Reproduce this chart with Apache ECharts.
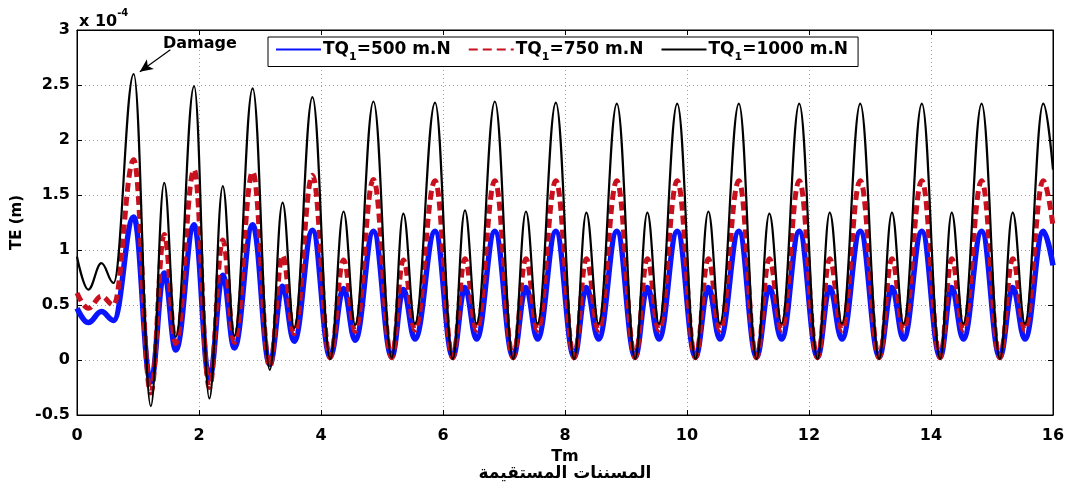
<!DOCTYPE html>
<html>
<head>
<meta charset="utf-8">
<script src="https://cdn.jsdelivr.net/npm/echarts@6/dist/echarts.min.js"></script>
<style>
html,body{margin:0;padding:0;background:#fff;}
#c{width:1088px;height:493px;}
</style>
</head>
<body>
<div id="c"></div>
<script>
// Time (Tm) of each turning point
const tm = [0, 0.185, 0.40, 0.60,
  0.93, 1.21, 1.43, 1.62,
  1.92, 2.17, 2.39, 2.58,
  2.88, 3.16, 3.37, 3.56,
  3.86, 4.15, 4.37, 4.56,
  4.86, 5.16, 5.35, 5.54,
  5.87, 6.16, 6.36, 6.55,
  6.85, 7.15, 7.36, 7.55,
  7.85, 8.15, 8.35, 8.55,
  8.85, 9.15, 9.35, 9.54,
  9.84, 10.14, 10.35, 10.54,
  10.85, 11.14, 11.35, 11.55,
  11.84, 12.14, 12.34, 12.54,
  12.84, 13.15, 13.36, 13.55,
  13.85, 14.15, 14.34, 14.53,
  14.83, 15.13, 15.34, 15.54,
  15.84, 16.0];

// TE values (x 10^-4 m)
const te500 = [0.47, 0.34, 0.44, 0.36,
  1.30, -0.20, 0.79, 0.09,
  1.23, -0.17, 0.77, 0.11,
  1.23, -0.04, 0.67, 0.17,
  1.18, 0.03, 0.65, 0.18,
  1.17, 0.03, 0.64, 0.19,
  1.17, 0.03, 0.66, 0.19,
  1.17, 0.03, 0.66, 0.19,
  1.17, 0.03, 0.66, 0.19,
  1.17, 0.03, 0.66, 0.19,
  1.17, 0.03, 0.66, 0.19,
  1.17, 0.03, 0.66, 0.19,
  1.17, 0.03, 0.66, 0.19,
  1.17, 0.03, 0.66, 0.19,
  1.17, 0.03, 0.66, 0.19,
  1.17, 0.03, 0.66, 0.19,
  1.17, 0.86];

const te750 = [0.61, 0.47, 0.58, 0.50,
  1.82, -0.30, 1.14, 0.15,
  1.73, -0.25, 1.09, 0.16,
  1.71, -0.06, 0.95, 0.24,
  1.68, 0.02, 0.91, 0.26,
  1.64, 0.02, 0.91, 0.27,
  1.63, 0.02, 0.92, 0.27,
  1.63, 0.02, 0.92, 0.27,
  1.63, 0.02, 0.92, 0.27,
  1.63, 0.02, 0.92, 0.27,
  1.63, 0.02, 0.92, 0.27,
  1.63, 0.02, 0.92, 0.27,
  1.63, 0.02, 0.92, 0.27,
  1.63, 0.02, 0.92, 0.27,
  1.63, 0.02, 0.92, 0.27,
  1.63, 0.02, 0.92, 0.27,
  1.63, 1.22];

const te1000 = [0.94, 0.64, 0.88, 0.70,
  2.60, -0.42, 1.61, 0.21,
  2.49, -0.35, 1.58, 0.22,
  2.47, -0.09, 1.43, 0.29,
  2.39, 0.01, 1.35, 0.32,
  2.35, 0.02, 1.33, 0.33,
  2.34, 0.01, 1.36, 0.33,
  2.35, 0.01, 1.35, 0.33,
  2.34, 0.01, 1.34, 0.33,
  2.33, 0.01, 1.34, 0.33,
  2.33, 0.01, 1.35, 0.33,
  2.33, 0.01, 1.33, 0.33,
  2.33, 0.01, 1.34, 0.33,
  2.33, 0.01, 1.34, 0.33,
  2.33, 0.01, 1.34, 0.33,
  2.33, 0.01, 1.34, 0.33,
  2.33, 1.73];

const seriesNames = ['TQ1=500 m.N', 'TQ1=750 m.N', 'TQ1=1000 m.N'];
const xName = 'Tm';
const yName = 'TE (m)';
const caption = 'المسننات المستقيمة';
const annotation = 'Damage';
const damagePoint = [0.93, 2.60];

const FONT = '"DejaVu Sans", "Liberation Sans", Arial, sans-serif';
const chart = echarts.init(document.getElementById('c'), null, {renderer: 'canvas'});
const pairs = v => tm.map((t, i) => [t, v[i]]);

const axisCommon = {
  axisLine: {show: true, onZero: false, lineStyle: {color: '#000', width: 1}},
  axisTick: {show: true, inside: true, length: 5, lineStyle: {color: '#000'}},
};

const lineSeries = (name, data, color, width, type, z) => ({
  name, type: 'line', data: pairs(data), symbol: 'none', showSymbol: false,
  smooth: 0.4, smoothMonotone: 'x', z,
  lineStyle: {color, width, type, cap: 'butt', join: 'round'},
  itemStyle: {color},
  animation: false
});

const s3 = lineSeries(seriesNames[2], te1000, '#000000', 2.2, 'solid', 4);
s3.markLine = {
  silent: true, animation: false,
  symbol: ['none', 'arrow'], symbolSize: [9, 13],
  label: {show: false},
  lineStyle: {color: '#000', width: 1.2, type: 'solid'},
  data: [[{coord: [1.53, 2.82]}, {coord: [damagePoint[0] + 0.1, damagePoint[1] + 0.02]}]]
};

const option = {
  animation: false,
  backgroundColor: '#fff',
  grid: {left: 77, right: 35, top: 30, bottom: 78, show: true, borderColor: '#000', borderWidth: 1, backgroundColor: '#fff'},
  xAxis: [
    Object.assign({
      type: 'value', min: 0, max: 16, interval: 2, position: 'bottom',
      axisLabel: {color: '#000', fontWeight: 'bold', fontSize: 16, fontFamily: FONT, margin: 13},
      splitLine: {show: true, lineStyle: {type: [1, 3], color: '#a0a0a0', width: 1}},
      name: xName, nameLocation: 'middle', nameGap: 27,
      nameTextStyle: {color: '#000', fontWeight: 'bold', fontSize: 16, fontFamily: FONT}
    }, axisCommon),
    Object.assign({
      type: 'value', min: 0, max: 16, interval: 2, position: 'top',
      axisLabel: {show: false}, splitLine: {show: false}
    }, axisCommon)
  ],
  yAxis: [
    Object.assign({
      type: 'value', min: -0.5, max: 3, interval: 0.5, position: 'left',
      axisLabel: {color: '#000', fontWeight: 'bold', fontSize: 16, fontFamily: FONT, margin: 7},
      splitLine: {show: true, lineStyle: {type: [1, 3], color: '#a0a0a0', width: 1}},
      name: yName, nameLocation: 'middle', nameGap: 51, nameRotate: 90,
      nameTextStyle: {color: '#000', fontWeight: 'bold', fontSize: 15, fontFamily: FONT}
    }, axisCommon),
    Object.assign({
      type: 'value', min: -0.5, max: 3, interval: 0.5, position: 'right',
      axisLabel: {show: false}, splitLine: {show: false}
    }, axisCommon)
  ],
  legend: {
    left: 268, top: 37,
    orient: 'horizontal',
    data: seriesNames,
    backgroundColor: '#fff', borderColor: '#000', borderWidth: 1,
    padding: [4, 10, 4, 7],
    itemWidth: 45, itemHeight: 14, itemGap: 17,
    itemStyle: {color: 'rgba(0,0,0,0)', borderWidth: 0, opacity: 0},
    selectedMode: false,
    formatter: name => '{b|TQ}{s|1}{b|' + name.slice(3) + '}',
    textStyle: {
      padding: [0, 0, 0, -3],
      rich: {
        b: {fontWeight: 'bold', fontSize: 17, fontFamily: FONT, color: '#000', lineHeight: 26},
        s: {fontWeight: 'bold', fontSize: 11, fontFamily: FONT, color: '#000', lineHeight: 12, verticalAlign: 'bottom'}
      }
    }
  },
  graphic: [
    {type: 'text', left: 79, top: 8, silent: true,
     style: {text: '{m|x 10}{e|-4}', rich: {
       m: {fontWeight: 'bold', fontSize: 16, fontFamily: FONT, fill: '#000', lineHeight: 22, verticalAlign: 'bottom'},
       e: {fontWeight: 'bold', fontSize: 10, fontFamily: FONT, fill: '#000', lineHeight: 22, verticalAlign: 'top'}
     }}},
    {type: 'text', left: 163, top: 36, silent: true,
     style: {text: annotation, fontWeight: 'bold', fontSize: 16, fontFamily: FONT, fill: '#000'}},
    {type: 'text', x: 565, y: 474, silent: true,
     style: {text: caption, fontWeight: 'bold', fontSize: 17, fontFamily: '"DejaVu Sans", "Noto Sans", sans-serif', fill: '#000', align: 'center', verticalAlign: 'middle'}}
  ],
  series: [
    lineSeries(seriesNames[0], te500, '#0a14ff', 5.5, 'solid', 2),
    lineSeries(seriesNames[1], te750, '#c8101e', 5, [9, 5], 3),
    s3
  ]
};
chart.setOption(option);
</script>
</body>
</html>
